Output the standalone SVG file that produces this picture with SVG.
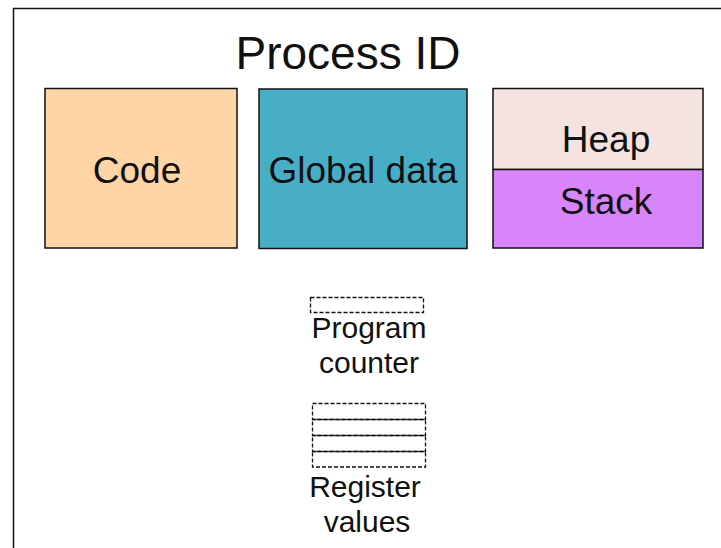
<svg xmlns="http://www.w3.org/2000/svg" width="721" height="548" viewBox="0 0 721 548">
  <style>
    text { font-family: "Liberation Sans", Arial, Helvetica, sans-serif; fill: #111; text-anchor: middle; }
    .box { stroke: #111; stroke-width: 1.5; }
    .dash { fill: none; stroke: #111; stroke-width: 1.3; stroke-dasharray: 4 2; }
    .big { font-size: 37px; }
    .small { font-size: 30px; }
  </style>
  <rect width="721" height="548" fill="#ffffff"/>

  <!-- process boundary (runs off the right and bottom edges) -->
  <g id="process">
    <rect x="13.5" y="8.5" width="740" height="580" fill="none" stroke="#111" stroke-width="1.5"/>
    <text x="348" y="69" style="font-size:46px">Process ID</text>
  </g>

  <g id="code">
    <rect class="box" x="45" y="88.5" width="192" height="159.5" fill="#FFD5A8"/>
    <text class="big" x="137" y="183">Code</text>
  </g>

  <g id="global-data">
    <rect class="box" x="259" y="89" width="208" height="159.5" fill="#48AEC6"/>
    <text class="big" x="363" y="183">Global data</text>
  </g>

  <g id="heap">
    <rect class="box" x="493" y="88.5" width="210" height="81" fill="#F5E3E1"/>
    <text class="big" x="606" y="152">Heap</text>
  </g>

  <g id="stack">
    <rect class="box" x="493" y="169.5" width="210" height="78.5" fill="#D884FA"/>
    <text class="big" x="606" y="214">Stack</text>
  </g>

  <g id="program-counter">
    <rect class="dash" x="310.5" y="297.5" width="113" height="15"/>
    <text class="small" x="369" y="338">Program</text>
    <text class="small" x="369" y="373">counter</text>
  </g>

  <g id="register-values">
    <rect class="dash" x="312.5" y="403.5" width="113" height="16"/>
    <rect class="dash" x="312.5" y="419.5" width="113" height="16"/>
    <rect class="dash" x="312.5" y="435.5" width="113" height="16"/>
    <rect class="dash" x="312.5" y="451.5" width="113" height="15.5"/>
    <text class="small" x="365" y="497">Register</text>
    <text class="small" x="367" y="532">values</text>
  </g>

  <g id="connectors"/>
</svg>
